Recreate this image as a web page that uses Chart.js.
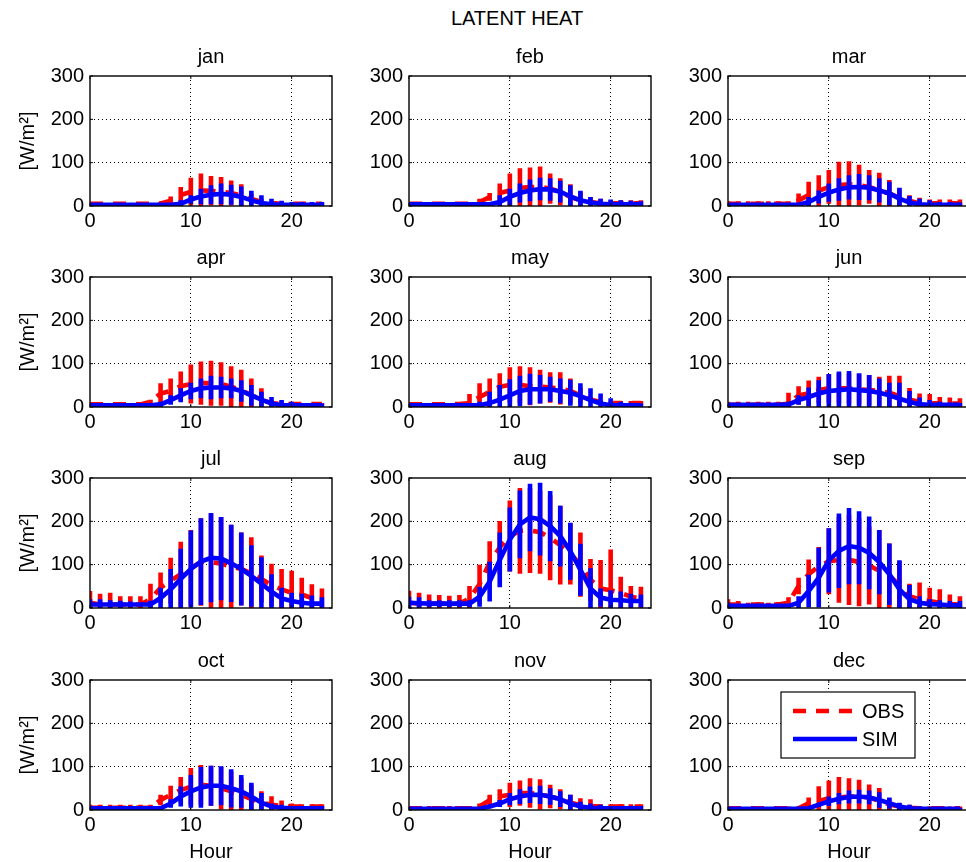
<!DOCTYPE html>
<html><head><meta charset="utf-8">
<script src="https://cdn.jsdelivr.net/npm/chart.js@4.4.0/dist/chart.umd.min.js"></script>
<style>
html,body{margin:0;padding:0;background:#fff;overflow:hidden;width:966px;height:862px;}
#wrap{position:relative;width:966px;height:862px;overflow:hidden;background:#fff;}
#wrap canvas{position:absolute;}
#title{position:absolute;top:7px;left:517px;transform:translateX(-50%);font-family:'Liberation Sans',Arial,sans-serif;font-size:20px;color:#000;white-space:nowrap;}
</style></head><body><div id="wrap"><div id="title"></div></div>
<script>
// ---------------- data ----------------
const figureTitle = 'LATENT HEAT';
const xAxisLabel = 'Hour';
const yAxisLabel = '[W/m²]';
const seriesNames = ['OBS', 'SIM'];
const monthNames = ['jan','feb','mar','apr','may','jun','jul','aug','sep','oct','nov','dec'];
const hours = [0,1,2,3,4,5,6,7,8,9,10,11,12,13,14,15,16,17,18,19,20,21,22,23];
const xTickValues = [0, 10, 20];
const yTickValues = [0, 100, 200, 300];

const janObs   = [5,5,5,5,5,5,5,6,12,25,33,36,35,33,30,24,16,10,7,5,5,5,5,5];
const janObsSd = [2,2,2,2,2,2,2,3,10,19,32,39,34,34,29,26,12,7,4,2,2,2,2,2];
const janSim   = [3,3,3,3,3,3,3,3,3,5,15,22,26,28,26,21,13,7,4,3,3,3,3,3];
const janSimSd = [4,4,4,4,4,4,4,4,4,8,10,18,22,24,23,24,22,18,13,9,6,6,6,6];

const febObs   = [5,5,5,5,5,5,5,9,21,30,36,42,44,44,40,33,21,13,9,6,6,6,6,6];
const febObsSd = [4,4,4,4,4,4,4,8,9,22,39,45,45,47,35,31,29,20,12,11,7,7,7,7];
const febSim   = [4,4,4,4,4,4,4,4,4,9,21,30,36,39,38,33,22,13,8,5,4,4,4,4];
const febSimSd = [4,4,4,4,4,4,4,4,4,16,19,22,25,26,26,25,26,22,13,12,11,9,8,7];

const marObs   = [5,5,5,5,5,5,5,13,25,35,44,48,50,48,44,36,29,19,12,6,6,6,6,6];
const marObsSd = [6,6,6,6,6,6,6,16,31,36,39,54,53,47,39,41,31,21,13,13,9,9,9,9];
const marSim   = [3,3,3,3,3,3,3,3,9,21,31,38,43,44,42,36,29,17,8,4,3,3,3,3];
const marSimSd = [4,4,4,4,4,4,4,4,12,15,21,26,28,30,29,28,27,25,15,13,10,6,6,5];

const aprObs   = [6,6,6,6,6,6,12,31,37,48,53,55,55,53,47,39,27,17,9,7,7,7,7,7];
const aprObsSd = [3,3,3,3,3,3,5,24,29,34,45,50,52,50,47,47,39,26,7,6,2,2,2,2];
const aprSim   = [4,4,4,4,4,4,4,6,16,27,37,43,45,45,43,37,27,17,8,4,4,4,4,4];
const aprSimSd = [4,4,4,4,4,4,4,6,11,16,19,23,27,25,23,25,24,18,15,12,8,5,4,4];

const mayObs   = [6,6,6,6,6,7,9,23,35,47,51,51,48,47,45,43,37,27,17,12,9,9,9,9];
const mayObsSd = [3,3,3,3,3,2,21,32,31,31,41,43,44,39,35,37,29,18,6,4,5,5,5,5];
const maySim   = [4,4,4,4,4,4,4,4,9,17,27,37,41,41,41,37,33,25,16,8,4,4,4,4];
const maySimSd = [4,4,4,4,4,4,4,8,26,34,37,35,36,33,29,29,30,30,27,23,16,8,6,4];

const junObs   = [5,5,5,5,5,5,8,27,31,39,43,43,43,41,39,37,33,25,17,12,9,8,8,8];
const junObsSd = [7,7,7,7,7,7,25,21,30,31,33,35,35,35,35,33,39,47,27,19,21,15,14,12];
const junSim   = [5,5,5,5,5,5,6,16,23,31,37,39,41,39,37,33,27,19,12,6,5,5,5,5];
const junSimSd = [4,4,4,4,4,4,6,11,22,31,39,43,42,39,37,33,29,37,25,16,11,7,5,4];

const julObs   = [12,8,8,8,8,8,20,47,63,78,92,106,106,102,96,90,80,67,53,43,35,31,23,20];
const julObsSd = [27,25,27,19,19,19,36,35,53,75,88,101,112,108,96,84,83,54,49,47,51,39,32,25];
const julSim   = [8,8,8,8,8,8,8,23,43,67,90,107,116,114,103,90,74,56,38,22,16,12,10,10];
const julSimSd = [12,12,10,9,7,4,9,24,47,70,89,100,103,96,89,84,71,61,40,25,19,21,19,15];

const augObs   = [12,10,10,10,10,10,22,55,105,140,166,178,179,175,162,145,125,100,65,45,41,35,26,22];
const augObsSd = [28,25,21,20,18,20,29,45,49,61,82,99,98,96,98,91,71,74,48,66,94,37,25,27];
const augSim   = [12,11,10,10,10,10,10,26,61,111,158,193,209,205,189,166,131,88,45,24,19,18,16,16];
const augSimSd = [14,14,8,8,8,8,8,23,46,63,74,78,78,84,81,70,66,60,47,21,22,20,17,15];

const sepObs   = [8,8,8,8,8,8,12,51,78,96,108,111,111,106,98,86,74,53,27,20,16,12,9,8];
const sepObsSd = [12,8,4,5,4,6,13,19,34,45,76,99,104,102,90,94,75,55,29,39,31,31,22,19];
const sepSim   = [5,5,5,5,5,5,5,12,39,70,110,132,143,139,127,106,78,43,20,12,9,8,6,6];
const sepSimSd = [7,4,4,4,4,4,4,15,38,69,74,86,88,84,84,74,71,67,33,15,11,10,10,10];

const octObs   = [5,5,5,5,5,5,5,23,35,46,54,58,56,50,43,35,25,17,12,9,8,8,8,8];
const octObsSd = [7,7,7,7,7,7,7,12,21,30,43,46,46,49,46,38,33,26,20,13,7,5,5,5];
const octSim   = [4,4,4,4,4,4,4,4,15,31,43,52,56,56,50,43,31,17,8,5,4,4,4,4];
const octSimSd = [4,4,4,4,4,4,4,4,10,23,38,47,46,45,44,38,32,22,7,7,5,5,5,5];

const novObs   = [4,4,4,4,4,4,4,8,23,31,35,39,39,36,31,25,17,12,9,8,8,8,8,8];
const novObsSd = [5,5,5,5,5,5,5,7,12,17,28,29,34,35,27,23,18,15,16,5,5,5,5,5];
const novSim   = [3,3,3,3,3,3,3,3,8,15,25,31,35,35,31,25,15,8,5,4,4,4,4,4];
const novSimSd = [4,4,4,4,4,4,4,4,4,8,14,17,19,21,19,18,20,11,10,8,5,5,5,5];

const decObs   = [4,4,4,4,4,4,4,4,16,21,27,29,31,31,29,21,13,8,5,4,4,4,4,4];
const decObsSd = [1,1,1,1,1,1,4,4,13,34,41,47,42,39,30,30,14,8,7,4,4,4,4,4];
const decSim   = [3,3,3,3,3,3,3,3,4,12,20,26,30,31,29,23,16,8,4,3,3,3,3,3];
const decSimSd = [2,2,2,2,2,2,2,2,4,4,11,13,15,16,16,18,13,9,8,5,2,2,2,2];

const panelData = [
  [janObs, janObsSd, janSim, janSimSd], [febObs, febObsSd, febSim, febSimSd], [marObs, marObsSd, marSim, marSimSd],
  [aprObs, aprObsSd, aprSim, aprSimSd], [mayObs, mayObsSd, maySim, maySimSd], [junObs, junObsSd, junSim, junSimSd],
  [julObs, julObsSd, julSim, julSimSd], [augObs, augObsSd, augSim, augSimSd], [sepObs, sepObsSd, sepSim, sepSimSd],
  [octObs, octObsSd, octSim, octSimSd], [novObs, novObsSd, novSim, novSimSd], [decObs, decObsSd, decSim, decSimSd]
];

// ---------------- layout / style ----------------
const FONT = "'Liberation Sans', Arial, Helvetica, sans-serif";
const FS = 20;
const COL_LEFT = [90, 409, 728];
const ROW_TOP = [76, 277, 478, 680];
const PLOT_W = 242, PLOT_H = 130;
const RED = '#ff0000', BLUE = '#0000ff';
const DASH = [13, 10];
const LW = 4.6;

document.getElementById('title').textContent = figureTitle;

function meanPts(m) { return hours.map((h, i) => ({x: h, y: m[i]})); }
function errPts(m, s) {
  const p = [];
  hours.forEach((h, i) => { p.push({x: h, y: m[i] - s[i]}, {x: h, y: m[i] + s[i]}, {x: h, y: null}); });
  return p;
}

const framePlugin = {
  id: 'frame',
  afterDraw(chart) {
    const {ctx, chartArea: a, scales: {x, y}} = chart;
    ctx.save();
    ctx.strokeStyle = '#000';
    ctx.lineWidth = 1.4;
    ctx.strokeRect(a.left, a.top, a.right - a.left, a.bottom - a.top);
    ctx.lineWidth = 1;
    ctx.beginPath();
    xTickValues.forEach(v => {
      const px = x.getPixelForValue(v);
      ctx.moveTo(px, a.bottom); ctx.lineTo(px, a.bottom - 3);
      ctx.moveTo(px, a.top); ctx.lineTo(px, a.top + 3);
    });
    yTickValues.forEach(v => {
      const py = y.getPixelForValue(v);
      ctx.moveTo(a.left, py); ctx.lineTo(a.left + 3, py);
      ctx.moveTo(a.right, py); ctx.lineTo(a.right - 3, py);
    });
    ctx.stroke();
    ctx.restore();
  }
};

const legendPlugin = {
  id: 'boxLegend',
  afterDraw(chart) {
    const {ctx, chartArea: a} = chart;
    const bx = a.left + 53, by = a.top + 12, bw = 134, bh = 66;
    ctx.save();
    ctx.fillStyle = '#fff';
    ctx.fillRect(bx, by, bw, bh);
    ctx.strokeStyle = '#000';
    ctx.lineWidth = 1.2;
    ctx.strokeRect(bx, by, bw, bh);
    const rows = [{name: seriesNames[0], color: RED, dash: DASH, y: by + 19},
                  {name: seriesNames[1], color: BLUE, dash: [], y: by + 47}];
    rows.forEach(r => {
      ctx.strokeStyle = r.color;
      ctx.lineWidth = LW;
      ctx.setLineDash(r.dash);
      ctx.beginPath();
      ctx.moveTo(bx + 12, r.y); ctx.lineTo(bx + 76, r.y);
      ctx.stroke();
      ctx.setLineDash([]);
      ctx.fillStyle = '#000';
      ctx.font = FS + 'px ' + FONT;
      ctx.textBaseline = 'middle';
      ctx.textAlign = 'left';
      ctx.fillText(r.name, bx + 81, r.y + 1);
    });
    ctx.restore();
  }
};

const wrap = document.getElementById('wrap');

monthNames.forEach((mName, i) => {
  const r = Math.floor(i / 3), c = i % 3;
  const L = COL_LEFT[c], T = ROW_TOP[r];
  const padL = c === 0 ? 90 : 70;
  const padB = r === 3 ? 56 : 40;
  const padT = 33, padR = 12;
  const w = padL + PLOT_W + padR, h = padT + PLOT_H + padB;
  const cv = document.createElement('canvas');
  cv.width = w; cv.height = h;
  cv.style.width = w + 'px'; cv.style.height = h + 'px';
  cv.style.left = (L - padL) + 'px';
  cv.style.top = (T - padT) + 'px';
  wrap.appendChild(cv);

  const [obs, obsSd, sim, simSd] = panelData[i];
  const gridColor = vals => ctx => (ctx.tick && vals.includes(ctx.tick.value)) ? '#000' : 'rgba(0,0,0,0)';

  new Chart(cv, {
    type: 'line',
    data: {
      datasets: [
        {label: seriesNames[0] + ' std', data: errPts(obs, obsSd), borderColor: RED, borderWidth: LW,
         pointRadius: 0, spanGaps: false, borderCapStyle: 'butt', order: 4},
        {label: seriesNames[0], data: meanPts(obs), borderColor: RED, borderWidth: LW, borderDash: DASH,
         pointRadius: 0, order: 3},
        {label: seriesNames[1] + ' std', data: errPts(sim, simSd), borderColor: BLUE, borderWidth: LW,
         pointRadius: 0, spanGaps: false, borderCapStyle: 'butt', order: 2},
        {label: seriesNames[1], data: meanPts(sim), borderColor: BLUE, borderWidth: LW,
         pointRadius: 0, order: 1}
      ]
    },
    options: {
      responsive: false, animation: false, devicePixelRatio: 1,
      events: [],
      layout: {padding: {left: 0, right: padR, top: 0, bottom: 0}},
      plugins: {
        legend: {display: false},
        tooltip: {enabled: false},
        title: {display: true, fullSize: false, text: mName, color: '#000',
                font: {family: FONT, size: FS, lineHeight: '22px', weight: 'normal'},
                padding: {top: 3, bottom: padT - 25}}
      },
      scales: {
        x: {
          type: 'linear', min: 0, max: 24,
          afterBuildTicks: s => { s.ticks = xTickValues.map(v => ({value: v})); },
          ticks: {color: '#000', font: {family: FONT, size: FS}, padding: 3, maxRotation: 0, autoSkip: false},
          grid: {color: gridColor([10, 20]), lineWidth: 1, drawTicks: false, tickLength: 0},
          border: {display: false, dash: [1, 3]},
          title: {display: r === 3, text: xAxisLabel, color: '#000',
                  font: {family: FONT, size: FS, lineHeight: '22px'}, padding: {top: 0, bottom: 3}},
          afterFit: s => { s.height = padB; }
        },
        y: {
          min: 0, max: 300,
          afterBuildTicks: s => { s.ticks = yTickValues.map(v => ({value: v})); },
          ticks: {color: '#000', font: {family: FONT, size: FS}, padding: 6, autoSkip: false},
          grid: {color: gridColor([100, 200]), lineWidth: 1, drawTicks: false, tickLength: 0},
          border: {display: false, dash: [1, 3]},
          title: {display: c === 0, text: yAxisLabel, color: '#000',
                  font: {family: FONT, size: FS, lineHeight: '22px'}, padding: {top: 17, bottom: 0}},
          afterFit: s => { s.width = padL; }
        }
      }
    },
    plugins: i === 11 ? [framePlugin, legendPlugin] : [framePlugin]
  });
});
</script>
</body></html>
